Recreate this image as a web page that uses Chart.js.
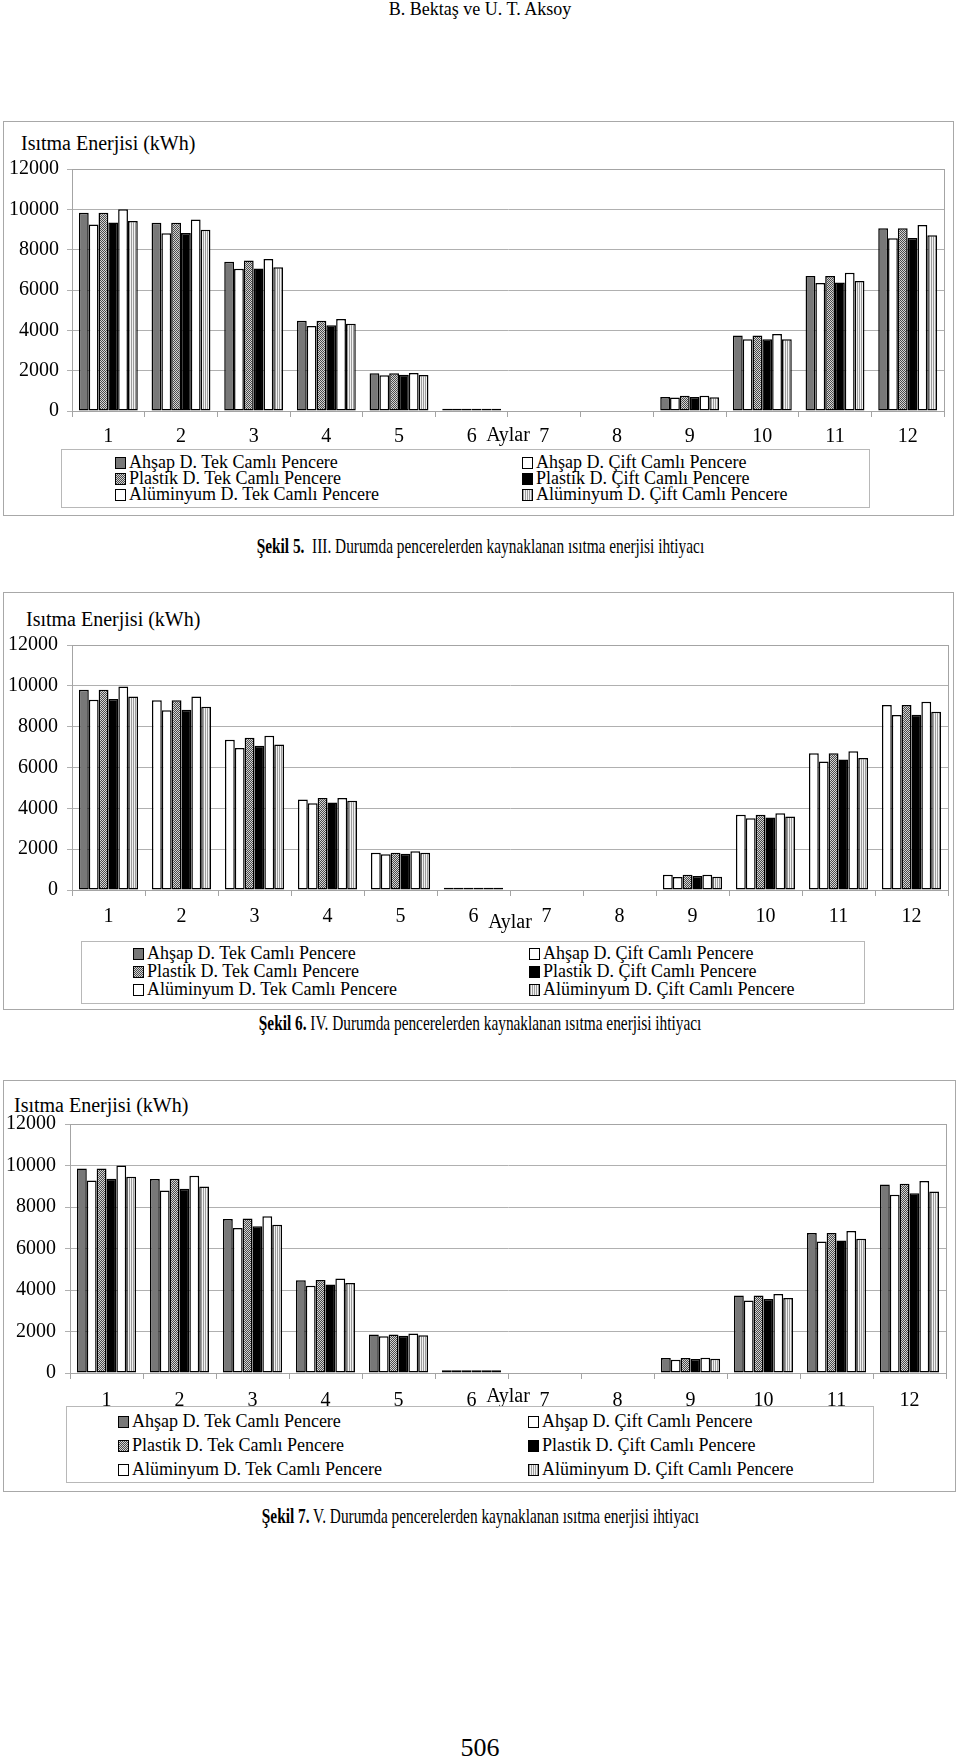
<!DOCTYPE html>
<html lang="tr">
<head>
<meta charset="utf-8">
<title>Şekil 5-7</title>
<script src="https://cdn.jsdelivr.net/npm/chart.js@4.4.1/dist/chart.umd.min.js"></script>
<style>
  body { margin:0; width:960px; height:1761px; position:relative; background:#fff; font-family:"Liberation Serif","Times New Roman",serif; color:#000; overflow:hidden; }
  .kutu { position:absolute; border:1.5px solid #a8a8a8; box-sizing:border-box; }
  canvas { position:absolute; left:3px; }
  .eksen { position:absolute; font-size:20px; line-height:22px; white-space:nowrap; }
  .lejant { position:absolute; border:1px solid #b8b8b8; box-sizing:border-box; background:#fff; }
  .oge { position:absolute; font-size:18px; line-height:18px; white-space:nowrap; }
  .oge i { display:inline-block; width:9px; height:10px; border:1.5px solid #000; margin-right:3px; vertical-align:-1px; }
  .sekil { position:absolute; left:0; width:960px; text-align:center; font-size:21px; line-height:22px; white-space:nowrap; }
  .sekil span { display:inline-block; transform:scaleX(0.73); }
  .ust { position:absolute; left:0; top:0; width:960px; text-align:center; font-size:18px; line-height:18px; }
  .sayfa { position:absolute; left:0; top:1735px; width:960px; text-align:center; font-size:26px; line-height:26px; }
</style>
</head>
<body>
<div class="ust">B. Bektaş ve U. T. Aksoy</div>

<!-- Şekil 5 -->
<div class="kutu" style="left:3px;top:121px;width:951px;height:395px"></div>
<div class="eksen" style="left:21px;top:132px">Isıtma Enerjisi (kWh)</div>
<canvas id="sekil5" width="951" height="334" style="top:121px"></canvas>
<div class="lejant" id="lejant5" style="left:61px;top:449px;width:809px;height:59px"></div>
<div class="sekil" style="top:535px"><span><b>Şekil 5.</b>&nbsp; III. Durumda pencerelerden kaynaklanan ısıtma enerjisi ihtiyacı</span></div>

<!-- Şekil 6 -->
<div class="kutu" style="left:3px;top:592px;width:951px;height:418px"></div>
<div class="eksen" style="left:26px;top:608px">Isıtma Enerjisi (kWh)</div>
<canvas id="sekil6" width="951" height="342" style="top:592px"></canvas>
<div class="lejant" id="lejant6" style="left:81px;top:941px;width:784px;height:63px"></div>
<div class="sekil" style="top:1012px"><span><b>Şekil 6.</b> IV. Durumda pencerelerden kaynaklanan ısıtma enerjisi ihtiyacı</span></div>

<!-- Şekil 7 -->
<div class="kutu" style="left:3px;top:1080px;width:953px;height:412px"></div>
<div class="eksen" style="left:14px;top:1094px">Isıtma Enerjisi (kWh)</div>
<canvas id="sekil7" width="953" height="337" style="top:1080px"></canvas>
<div class="lejant" id="lejant7" style="left:66px;top:1406px;width:808px;height:77px"></div>
<div class="sekil" style="top:1505px"><span><b>Şekil 7.</b> V. Durumda pencerelerden kaynaklanan ısıtma enerjisi ihtiyacı</span></div>

<div class="sayfa">506</div>

<script>
// aylar ve seri adlari
const aylar = ['1', '2', '3', '4', '5', '6', '7', '8', '9', '10', '11', '12'];
const seriAdlari = [
    'Ahşap D. Tek Camlı Pencere', 'Ahşap D. Çift Camlı Pencere',
    'Plastik D. Tek Camlı Pencere', 'Plastik D. Çift Camlı Pencere',
    'Alüminyum D. Tek Camlı Pencere', 'Alüminyum D. Çift Camlı Pencere'
];
const yTikleri = [0, 2000, 4000, 6000, 8000, 10000, 12000];

// Şekil 5 - III. durum (kWh)
const s5AhsapTek     = [9830, 9330, 7400, 4480, 1870, 110, 0, 0, 700, 3740, 6700, 9060];
const s5AhsapCift    = [9250, 8810, 7050, 4220, 1770, 110, 0, 0, 670, 3560, 6350, 8560];
const s5PlastikTek   = [9830, 9330, 7460, 4480, 1870, 110, 0, 0, 760, 3740, 6700, 9060];
const s5PlastikCift  = [9350, 8830, 7060, 4250, 1800, 110, 0, 0, 700, 3560, 6370, 8580];
const s5AluminyumTek = [10000, 9490, 7540, 4560, 1880, 110, 0, 0, 760, 3820, 6860, 9220];
const s5AluminyumCift = [9420, 8990, 7130, 4330, 1780, 110, 0, 0, 680, 3560, 6450, 8720];

// Şekil 6 - IV. durum (kWh)
const s6AhsapTek     = [9810, 9300, 7360, 4430, 1830, 110, 0, 0, 750, 3680, 6700, 9060];
const s6AhsapCift    = [9320, 8800, 6950, 4250, 1750, 110, 0, 0, 640, 3520, 6300, 8570];
const s6PlastikTek   = [9810, 9300, 7460, 4510, 1830, 110, 0, 0, 750, 3680, 6700, 9060];
const s6PlastikCift  = [9350, 8830, 7060, 4280, 1780, 110, 0, 0, 690, 3550, 6390, 8580];
const s6AluminyumTek = [9970, 9480, 7550, 4510, 1900, 110, 0, 0, 750, 3760, 6790, 9220];
const s6AluminyumCift = [9480, 8980, 7130, 4370, 1830, 110, 0, 0, 650, 3600, 6460, 8730];

// Şekil 7 - V. durum (kWh)
const s7AhsapTek     = [9850, 9350, 7420, 4470, 1850, 130, 0, 0, 720, 3740, 6750, 9090];
const s7AhsapCift    = [9280, 8800, 6990, 4210, 1770, 130, 0, 0, 640, 3500, 6340, 8590];
const s7PlastikTek   = [9860, 9360, 7450, 4480, 1850, 130, 0, 0, 720, 3740, 6750, 9120];
const s7PlastikCift  = [9360, 8880, 7070, 4270, 1800, 130, 0, 0, 680, 3570, 6390, 8660];
const s7AluminyumTek = [10000, 9510, 7560, 4560, 1900, 130, 0, 0, 740, 3810, 6840, 9250];
const s7AluminyumCift = [9460, 8990, 7150, 4340, 1820, 130, 0, 0, 690, 3610, 6470, 8750];

Chart.defaults.font.family = '"Liberation Serif", "Times New Roman", serif';
Chart.defaults.color = '#000';

// desenli dolgular (damali gri ve dikey cizgili)
function desen(pikseller, w, h) {
    const c = document.createElement('canvas');
    c.width = w;
    c.height = h;
    const g = c.getContext('2d');
    pikseller.forEach(([x, y, renk]) => {
        g.fillStyle = renk;
        g.fillRect(x, y, 1, 1);
    });
    return g.createPattern(c, 'repeat');
}
const gri = '#787878';
const damali = desen([[0, 0, '#4a4a4a'], [1, 1, '#4a4a4a'], [1, 0, '#d4d4d4'], [0, 1, '#d4d4d4']], 2, 2);
const cizgili = desen([[0, 0, '#9c9c9c'], [1, 0, '#f2f2f2']], 2, 1);
const dolgular = [gri, '#fff', damali, '#000', '#fff', cizgili];
const lejantDolgular = [gri, '#fff',
    'repeating-conic-gradient(#4a4a4a 0 25%, #d4d4d4 0 50%) 0 0/2px 2px',
    '#000', '#fff',
    'repeating-linear-gradient(90deg, #9c9c9c 0 1px, #f2f2f2 1px 2px)'];

// cizim alaninin etrafina gri cerceve
const cerceve = {
    id: 'cerceve',
    beforeDatasetsDraw(chart) {
        const {ctx, chartArea: a} = chart;
        ctx.save();
        ctx.strokeStyle = '#a4a4a4';
        ctx.lineWidth = 1;
        ctx.strokeRect(Math.round(a.left) + 0.5, Math.round(a.top) + 0.5, Math.round(a.width), Math.round(a.height));
        ctx.restore();
    }
};

function grafik(id, seriler, o) {
    const datasets = seriler.map((d, i) => ({
        label: seriAdlari[i],
        data: d,
        backgroundColor: (o.ilkGri && i === 0) ? aylar.map((a, k) => k === 0 ? gri : '#fff') : dolgular[i],
        borderColor: '#000',
        borderWidth: 1.5,
        borderSkipped: false,
        categoryPercentage: 0.81,
        barPercentage: 1
    }));
    new Chart(document.getElementById(id), {
        type: 'bar',
        data: {labels: aylar, datasets: datasets},
        options: {
            responsive: false,
            animation: false,
            layout: {padding: {top: o.ust, right: o.sag, bottom: 4, left: 0}},
            plugins: {legend: {display: false}, tooltip: {enabled: false}},
            scales: {
                x: {
                    ticks: {padding: o.xPad, font: {size: 20}, maxRotation: 0, autoSkip: false},
                    grid: {offset: true, drawOnChartArea: false, tickLength: 6, color: '#a4a4a4'},
                    border: {color: '#a4a4a4'},
                    title: {display: true, text: 'Aylar', font: {size: 20}, padding: {top: 0, bottom: o.aylarPad}},
                    afterFit(s) { s.height = 40; }
                },
                y: {
                    min: yTikleri[0],
                    max: yTikleri[yTikleri.length - 1],
                    afterBuildTicks(s) { s.ticks = yTikleri.map(v => ({value: v})); },
                    ticks: {padding: o.yPad, font: {size: 20}, callback: v => String(v)},
                    grid: {color: '#b0b0b0', tickLength: 5},
                    border: {color: '#a4a4a4'},
                    afterFit(s) { s.width = o.yGen; }
                }
            }
        },
        plugins: [cerceve]
    });
}

// lejant: 2 sutun, 3 satir
function lejant(id, satirlar, sutunlar) {
    const kutu = document.getElementById(id);
    seriAdlari.forEach((ad, i) => {
        const oge = document.createElement('div');
        oge.className = 'oge';
        oge.style.top = satirlar[Math.floor(i / 2)] + 'px';
        oge.style.left = sutunlar[i % 2] + 'px';
        const kare = document.createElement('i');
        kare.style.background = lejantDolgular[i];
        oge.appendChild(kare);
        oge.appendChild(document.createTextNode(ad));
        kutu.appendChild(oge);
    });
}

grafik('sekil5', [s5AhsapTek, s5AhsapCift, s5PlastikTek, s5PlastikCift, s5AluminyumTek, s5AluminyumCift],
    {ust: 48, sag: 10, xPad: 8, yPad: 8, aylarPad: 3, yGen: 69});
grafik('sekil6', [s6AhsapTek, s6AhsapCift, s6PlastikTek, s6PlastikCift, s6AluminyumTek, s6AluminyumCift],
    {ust: 53, sag: 6, xPad: 9, yPad: 9, aylarPad: -5, yGen: 69, ilkGri: true});
grafik('sekil7', [s7AhsapTek, s7AhsapCift, s7PlastikTek, s7PlastikCift, s7AluminyumTek, s7AluminyumCift],
    {ust: 44, sag: 10, xPad: 10, yPad: 9, aylarPad: 4, yGen: 67});

lejant('lejant5', [3, 19, 35], [53, 460]);
lejant('lejant6', [2, 20, 38], [51, 447]);
lejant('lejant7', [5, 29, 53], [51, 461]);
</script>
</body>
</html>
